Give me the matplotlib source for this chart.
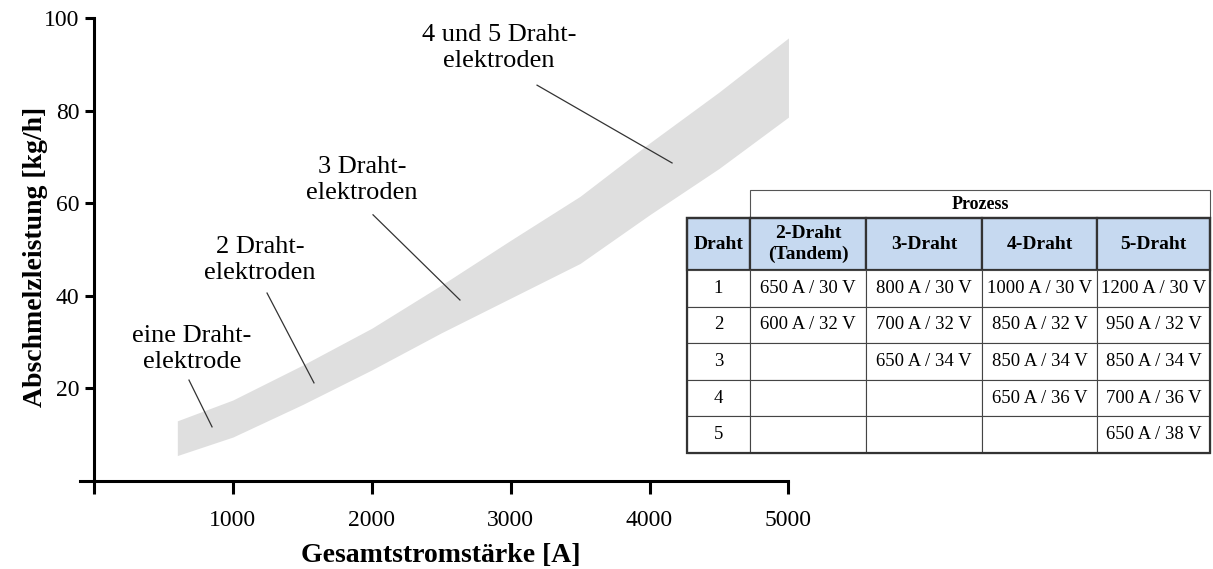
import matplotlib
matplotlib.use('Agg')

import matplotlib.pyplot as plt
from matplotlib.patches import Rectangle

plt.rcParams['font.family'] = ['Liberation Serif', 'DejaVu Serif']

# ==========================
# Daten: Abschmelzleistung (Band)
# ==========================
strom = [600, 1000, 1500, 2000, 2500, 3000, 3500, 4000, 4500, 5000]
leistung_oben = [13.0, 17.5, 25.0, 33.0, 42.3, 52.0, 61.5, 73.0, 84.0, 95.7]
leistung_unten = [5.5, 9.5, 16.5, 24.0, 32.0, 39.5, 47.0, 57.5, 67.5, 78.6]

x_ticks = [0, 1000, 2000, 3000, 4000, 5000]
x_ticklabels = ['', '1000', '2000', '3000', '4000', '5000']
y_ticks = [20, 40, 60, 80, 100]

# Beschriftungen: (Text, Textposition, Linie von, Linie bis)
beschriftungen = [
    ("eine Draht-\nelektrode", (706, 28.5), (684, 21.8), (850, 11.7)),
    ("2 Draht-\nelektroden", (1195, 47.7), (1246, 40.6), (1584, 21.2)),
    ("3 Draht-\nelektroden", (1930, 65.0), (2009, 57.5), (2635, 39.1)),
    ("4 und 5 Draht-\nelektroden", (2916, 93.5), (3190, 85.5), (4162, 68.7)),
]

# ==========================
# Daten: Tabelle
# ==========================
tab_kopf = ["Draht", "2-Draht\n(Tandem)", "3-Draht", "4-Draht", "5-Draht"]
tab_zeilen = [
    ["1", "650 A / 30 V", "800 A / 30 V", "1000 A / 30 V", "1200 A / 30 V"],
    ["2", "600 A / 32 V", "700 A / 32 V", "850 A / 32 V", "950 A / 32 V"],
    ["3", "", "650 A / 34 V", "850 A / 34 V", "850 A / 34 V"],
    ["4", "", "", "650 A / 36 V", "700 A / 36 V"],
    ["5", "", "", "", "650 A / 38 V"],
]
tab_titel = "Prozess"

# ==========================
# Figur
# ==========================
fig = plt.figure(figsize=(12.13, 5.69), dpi=100)
ax = fig.add_axes([0.0603, 0.1302, 0.5897, 0.8381])

ax.fill_between(strom, leistung_unten, leistung_oben,
                color='#dfdfdf', linewidth=0)

for text, pos, p0, p1 in beschriftungen:
    ax.text(pos[0], pos[1], text, ha='center', va='center',
            fontsize=19, linespacing=1.2)
    ax.plot([p0[0], p1[0]], [p0[1], p1[1]], color='#333333', lw=0.9)

ax.set_xlim(-150, 5000)
ax.set_ylim(-3, 100)

for s in ['top', 'right']:
    ax.spines[s].set_visible(False)
ax.spines['left'].set_position(('data', 0))
ax.spines['bottom'].set_position(('data', 0))
ax.spines['left'].set_bounds(0, 100)
ax.spines['bottom'].set_bounds(-100, 5000)
for s in ['left', 'bottom']:
    ax.spines[s].set_linewidth(2.2)

ax.set_xticks(x_ticks)
ax.set_xticklabels(x_ticklabels)
ax.set_yticks(y_ticks)
ax.tick_params(axis='x', direction='out', length=9, width=2.2,
               labelsize=17, pad=12)
ax.tick_params(axis='y', direction='out', length=6.5, width=2.2,
               labelsize=17, pad=4)

ax.set_xlabel("Gesamtstromstärke [A]", fontsize=20, fontweight='bold')
ax.set_ylabel("Abschmelzleistung [kg/h]", fontsize=20, fontweight='bold')
ax.xaxis.set_label_coords(0.514, -0.10)
ax.yaxis.set_label_coords(-0.035, 0.5)

# ==========================
# Tabelle (Pixelkoordinaten)
# ==========================
tx = fig.add_axes([0, 0, 1, 1])
tx.set_xlim(0, 1213)
tx.set_ylim(569, 0)
tx.axis('off')

spalten = [687, 750, 866, 982, 1097, 1210]
titel_oben, kopf_oben, kopf_unten = 190, 218, 270
zeilen_h = 36.6
linie = '#333333'

# Titelzeile "Prozess"
tx.add_patch(Rectangle((spalten[1], titel_oben), spalten[-1] - spalten[1],
                       kopf_oben - titel_oben, facecolor='white',
                       edgecolor='#555555', lw=0.8))
tx.text((spalten[1] + spalten[-1]) / 2, (titel_oben + kopf_oben) / 2,
        tab_titel, ha='center', va='center', fontsize=13, fontweight='bold')

# Kopfzeile
for i, k in enumerate(tab_kopf):
    tx.add_patch(Rectangle((spalten[i], kopf_oben), spalten[i + 1] - spalten[i],
                           kopf_unten - kopf_oben, facecolor='#c6d9f0',
                           edgecolor=linie, lw=1.6))
    tx.text((spalten[i] + spalten[i + 1]) / 2, (kopf_oben + kopf_unten) / 2,
            k, ha='center', va='center', fontsize=14, fontweight='bold',
            linespacing=1.3)

# Datenzeilen
for r, zeile in enumerate(tab_zeilen):
    y0 = kopf_unten + r * zeilen_h
    for i, wert in enumerate(zeile):
        tx.add_patch(Rectangle((spalten[i], y0), spalten[i + 1] - spalten[i],
                               zeilen_h, facecolor='white',
                               edgecolor='#444444', lw=0.8))
        tx.text((spalten[i] + spalten[i + 1]) / 2, y0 + zeilen_h / 2,
                wert, ha='center', va='center', fontsize=13.5)

# Außenrahmen der Tabelle
tx.add_patch(Rectangle((spalten[0], kopf_oben), spalten[-1] - spalten[0],
                       kopf_unten + 5 * zeilen_h - kopf_oben, facecolor='none',
                       edgecolor=linie, lw=1.6))

fig.savefig("out.png", dpi=100)
plt.close(fig)
